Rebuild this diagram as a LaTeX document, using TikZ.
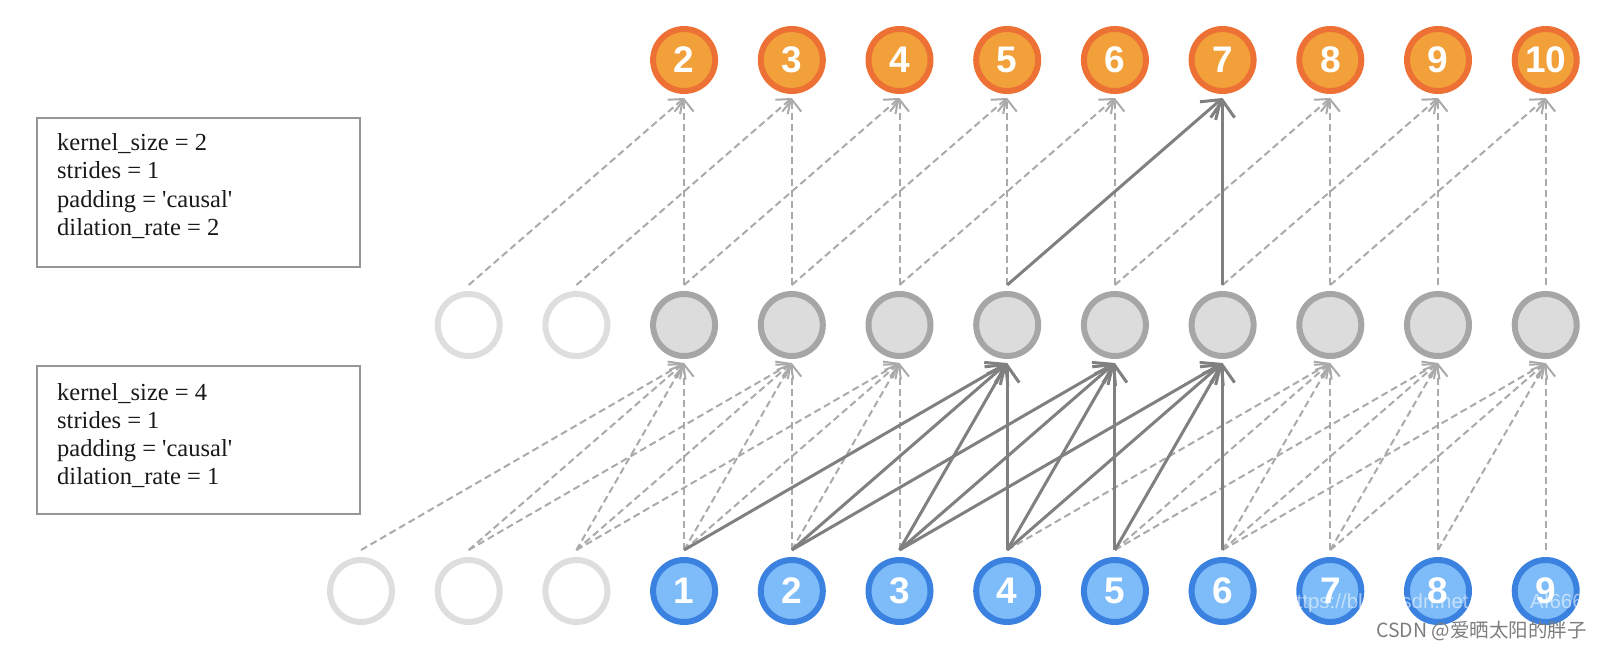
\documentclass[tikz,border=0pt]{standalone}
\usepackage{fontspec}
\setmainfont{Liberation Serif}
\newfontfamily\numfont{Liberation Sans}
\newfontfamily\cjkfont{Noto Sans CJK SC}
\usetikzlibrary{arrows.meta}
\definecolor{orfill}{RGB}{241,160,58}
\definecolor{orring}{RGB}{237,113,52}
\definecolor{grfill}{RGB}{220,220,220}
\definecolor{grring}{RGB}{166,166,166}
\definecolor{padring}{RGB}{222,222,222}
\definecolor{blfill}{RGB}{125,188,248}
\definecolor{blring}{RGB}{59,130,224}
\definecolor{dashcol}{RGB}{170,170,170}
\definecolor{solidcol}{RGB}{128,128,128}
\definecolor{boxcol}{RGB}{150,150,150}
\definecolor{wmgray}{RGB}{125,125,125}
\tikzset{
  cell/.style={circle, minimum size=62pt, inner sep=0pt, line width=6pt,
    font=\numfont\bfseries\fontsize{37}{37}\selectfont, text=white},
  topcell/.style={cell, draw=orring, fill=orfill},
  midcell/.style={cell, draw=grring, fill=grfill},
  padcell/.style={cell, draw=padring, fill=white},
  botcell/.style={cell, draw=blring, fill=blfill},
  dashlink/.style={draw=dashcol, line width=2pt, dash pattern=on 7pt off 4pt,
    -{Straight Barb[length=12pt,width=19pt]}},
  solidlink/.style={draw=solidcol, line width=3pt,
    -{Straight Barb[length=17pt,width=24pt]}},
  parbox/.style={draw=boxcol, line width=2pt, minimum width=323pt,
    minimum height=148pt, inner sep=0pt},
  partext/.style={anchor=base west, inner sep=0pt,
    font=\fontsize{24.5}{28}\selectfont, text=black!90}
}
\begin{document}
\begin{tikzpicture}[x=1pt,y=-1pt]
\useasboundingbox (0,0) rectangle (1600,650);
% bottom row
\foreach \c in {0,1,2} {
  \node[padcell] (b\c) at ({361+107.7*\c},591) {};
}
\foreach \c in {3,...,11} {
  \pgfmathtruncatemacro\lab{\c-2}
  \node[botcell] (b\c) at ({361+107.7*\c},591) {\lab};
}
% middle row
\foreach \c in {1,2} {
  \node[padcell] (m\c) at ({361+107.7*\c},325) {};
}
\foreach \c in {3,...,11} {
  \node[midcell] (m\c) at ({361+107.7*\c},325) {};
}
% top row
\foreach \c in {3,...,11} {
  \pgfmathtruncatemacro\lab{\c-1}
  \node[topcell] (t\c) at ({361+107.7*\c},60) {\lab};
}
% connector ends
\foreach \c in {0,...,11} { \coordinate (bs\c) at ([yshift=7pt]b\c.north); }
\foreach \c in {1,...,11} { \coordinate (mo\c) at ([yshift=6pt]m\c.north); }
\foreach \c in {3,...,11} {
  \coordinate (mi\c) at ([yshift=-4pt]m\c.south);
  \coordinate (ti\c) at ([yshift=-4pt]t\c.south);
}
% dashed, bottom -> middle
\foreach \c in {3,4,5,9,10,11} {
  \foreach \k in {0,...,3} {
    \pgfmathtruncatemacro\s{\c-3+\k}
    \draw[dashlink] (bs\s) -- (mi\c);
  }
}
% dashed, middle -> top
\foreach \c in {3,4,5,6,7,9,10,11} {
  \pgfmathtruncatemacro\s{\c-2}
  \draw[dashlink] (mo\s) -- (ti\c);
  \draw[dashlink] (mo\c) -- (ti\c);
}
% solid, bottom -> middle
\foreach \c in {6,7,8} {
  \foreach \k in {0,...,3} {
    \pgfmathtruncatemacro\s{\c-3+\k}
    \draw[solidlink] (bs\s) -- (mi\c);
  }
}
% solid, middle -> top
\draw[solidlink] (mo6) -- (ti8);
\draw[solidlink] (mo8) -- (ti8);
% parameter boxes
\node[parbox] (box1) at (198.5,192.5) {};
\node[partext] (k1a) at (57,150) {kernel\_size = 2};
\node[partext] (k1b) at (57,178.5) {strides = 1};
\node[partext] (k1c) at (57,207) {padding = \textquotesingle causal\textquotesingle};
\node[partext] (k1d) at (57,235.5) {dilation\_rate = 2};
\node[parbox] (box2) at (198.5,440) {};
\node[partext] (k2a) at (57,400) {kernel\_size = 4};
\node[partext] (k2b) at (57,428) {strides = 1};
\node[partext] (k2c) at (57,456) {padding = \textquotesingle causal\textquotesingle};
\node[partext] (k2d) at (57,484) {dilation\_rate = 1};
% watermark
\node[anchor=base west, inner sep=0pt, font=\numfont\fontsize{20.5}{20.5}\selectfont,
  text=white, opacity=0.55] (url1) at (1285,608) {https://blog.csdn.net/};
\node[anchor=base west, inner sep=0pt, font=\numfont\fontsize{20.5}{20.5}\selectfont,
  text=white, opacity=0.55] (url2) at (1530,608) {AI666};
\node[anchor=base east, inner sep=0pt, font=\cjkfont\fontsize{19.5}{19.5}\selectfont,
  text=wmgray] (wm) at (1587,637) {CSDN @爱晒太阳的胖子};
\end{tikzpicture}
\end{document}
